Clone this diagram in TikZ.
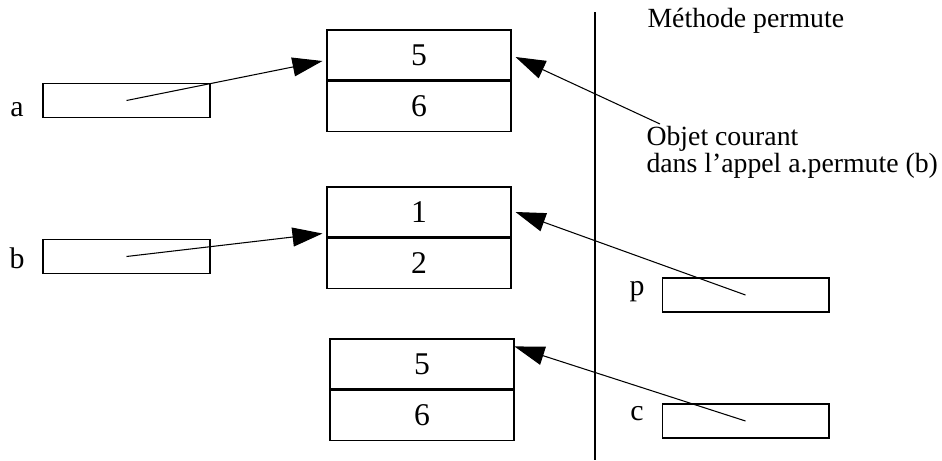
\documentclass[tikz,border=0pt]{standalone}
\usepackage{fontspec}
\setmainfont{Liberation Serif}
\usetikzlibrary{arrows.meta, positioning}
\tikzstyle{cell} = [rectangle, minimum width=3.68cm, minimum height=1cm, inner sep=0pt, draw=black, font=\fontsize{18}{20}\selectfont]
\tikzstyle{ref} = [rectangle, minimum width=3.34cm, minimum height=0.68cm, inner sep=0pt, draw=black]
\tikzstyle{var} = [font=\fontsize{17}{19}\selectfont]
\tikzstyle{ptr} = [-{Triangle[length=0.6cm,width=0.38cm]}]

\begin{document}
\begin{tikzpicture}[x=0.02cm, y=-0.02cm, line width=0.6pt, font=\fontsize{15.8}{14.2}\selectfont]
\useasboundingbox (0,0) rectangle (942,460);
% objets
\node (o1top) [cell] at (419,55) {5};
\node (o1bot) [cell, below=0pt of o1top] {6};
\node (o2top) [cell] at (419,212) {1};
\node (o2bot) [cell, below=0pt of o2top] {2};
\node (o3top) [cell] at (422,364) {5};
\node (o3bot) [cell, below=0pt of o3top] {6};
% references
\node (ra) [ref] at (126.5,100.5) {};
\node (rb) [ref] at (126.5,256.5) {};
\node (rp) [ref] at (745.5,295) {};
\node (rc) [ref] at (745.5,421) {};
\node (la) [var] at (17,110) {a};
\node (lb) [var] at (17,258) {b};
\node (lp) [var] at (637,292) {p};
\node (lc) [var] at (637,414) {c};
% methode
\draw (595,12) -- (595,460);
\node (title) [anchor=base west, inner sep=0pt] at (647,27) {Méthode permute};
\node (obj) [anchor=north west, inner sep=0pt, align=left] at (646,126) {Objet courant\\dans l’appel a.permute (b)};
\draw [ptr] (ra.center) -- ([xshift=-0.08cm,yshift=-0.12cm]o1top.west);
\draw [ptr] (rb.center) -- ([xshift=-0.08cm,yshift=0.08cm]o2top.south west);
\draw [ptr] ([xshift=0.28cm,yshift=0.04cm]obj.north west) -- ([xshift=0.08cm,yshift=-0.04cm]o1top.east);
\draw [ptr] (rp.center) -- ([xshift=0.08cm]o2top.east);
\draw [ptr] (rc.center) -- ([yshift=-0.16cm]o3top.north east);
\end{tikzpicture}
\end{document}
